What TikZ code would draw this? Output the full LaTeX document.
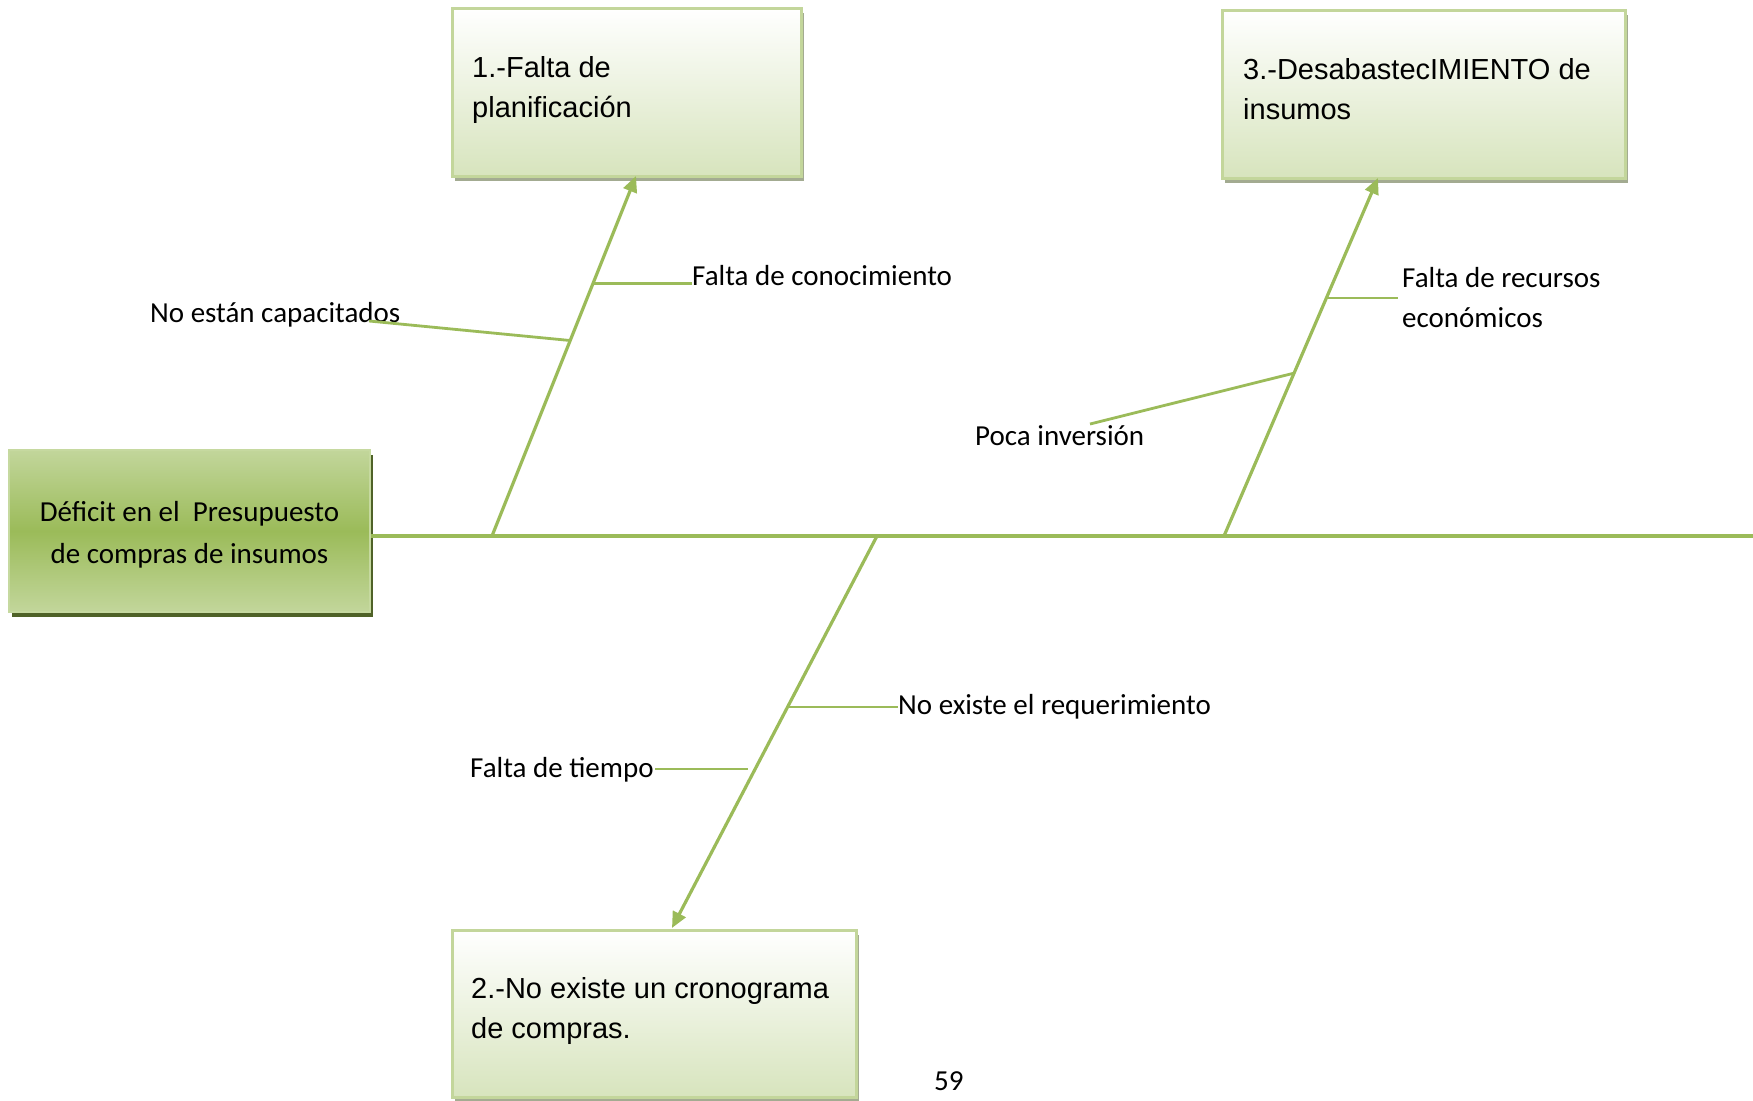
\documentclass[tikz,border=0pt]{standalone}
\usepackage{fontspec}
\setmainfont{Carlito}
\newfontfamily\arialf{Liberation Sans}
\usetikzlibrary{arrows.meta,shadows}
\definecolor{bone}{HTML}{9BBB59}
\definecolor{boxborder}{HTML}{C3D69B}
\definecolor{boxbot}{HTML}{D7E4BD}
\definecolor{shadowlt}{HTML}{A3AB91}
\definecolor{headedge}{HTML}{C6D9A0}
\definecolor{headlight}{HTML}{C2D69B}
\definecolor{headmid}{HTML}{9BBB59}
\definecolor{shadowdk}{HTML}{4F6228}
\tikzset{
  bonel/.style={draw=bone, line width=3.2pt},
  sublink/.style={draw=bone, line width=2.8pt},
  arrowbone/.style={bonel, -{Triangle[length=16pt,width=14pt]}},
  causebox/.style={draw=boxborder, line width=2.5pt, top color=white, bottom color=boxbot,
    inner sep=0pt, anchor=north west,
    drop shadow={shadow xshift=3pt, shadow yshift=-5pt, fill=shadowlt, opacity=1}},
  headbox/.style={draw=headedge, line width=2.5pt, top color=headlight, bottom color=headlight,
    middle color=headmid, inner sep=0pt,
    drop shadow={shadow xshift=3pt, shadow yshift=-5pt, fill=shadowdk, opacity=1}},
  headtext/.style={font=\fontsize{29}{42}\selectfont, align=center, inner sep=0pt},
  causetext/.style={font=\arialf\fontsize{29}{39.5}\selectfont, align=left, anchor=base west, inner sep=0pt},
  lab/.style={font=\fontsize{29}{40}\selectfont, anchor=base west, inner sep=0pt, align=left},
}
\begin{document}
\begin{tikzpicture}[x=1pt,y=-1pt]
\useasboundingbox (0,0) rectangle (1753,1100);

% head and spine
\node[headbox, minimum width=361pt, minimum height=162pt] (head) at (189.5,531) {};
\node[headtext] (headt) at (189.5,535) {Déficit en el\ \ Presupuesto\\de compras de insumos};
\coordinate (se) at (1753,536);
\draw[bonel] (head.east |- se) -- (se);

% cause boxes
\node[causebox, minimum width=349pt, minimum height=168pt] (b1) at (451,7) {};
\node[causebox, minimum width=404pt, minimum height=167pt] (b2) at (451,929) {};
\node[causebox, minimum width=403pt, minimum height=168pt] (b3) at (1221,9) {};
% base anchor of a two-line node is the baseline of its last line
\node[causetext] (b1t) at (472,117) {1.-Falta de\\planificación};
\node[causetext] (b2t) at (471,1038) {2.-No existe un cronograma\\de compras.};
\node[causetext] (b3t) at (1243,119) {3.-DesabastecIMIENTO de\\insumos};

% bones
\coordinate (s1) at (492,536);
\coordinate (t1) at (636,176);
\coordinate (s2) at (877,536);
\coordinate (t2) at (672,928);
\coordinate (s3) at (1224,536);
\coordinate (t3) at (1378,178);
\draw[arrowbone] (s1) -- (t1);
\draw[arrowbone] (s2) -- (t2);
\draw[arrowbone] (s3) -- (t3);

\path (s1) -- (t1) coordinate[pos=0.702] (k1) coordinate[pos=0.543] (k2);
\path (s3) -- (t3) coordinate[pos=0.665] (k3) coordinate[pos=0.455] (k4);
\path (s2) -- (t2) coordinate[pos=0.436] (k5);

% labels
\node[lab] (l1) at (692,285) {Falta de conocimiento};
\node[lab] (l2) at (150,322) {No están capacitados};
\node[lab] (l3) at (1402,327) {Falta de recursos\\económicos};
\node[lab] (l4) at (975,445) {Poca inversión};
\node[lab] (l5) at (898,714) {No existe el requerimiento};
\node[lab] (l6) at (470,777) {Falta de tiempo};
\node[lab] (pg) at (934,1090) {59};

% sub-bones
\coordinate (e1) at (692,284);
\coordinate (e2) at (369,321);
\coordinate (e3) at (1398,298);
\coordinate (e4) at (1090,424);
\coordinate (e5) at (898,707);
\coordinate (e6a) at (655,769);
\coordinate (e6b) at (748,769);
\draw[sublink] (k1) -- (k1 -| e1);
\draw[sublink] (k2) -- (e2);
\draw[sublink] (k3) -- (k3 -| e3);
\draw[sublink] (k4) -- (e4);
\draw[sublink] (k5) -- (k5 -| e5);
\draw[sublink] (e6a) -- (e6b);
\end{tikzpicture}
\end{document}
